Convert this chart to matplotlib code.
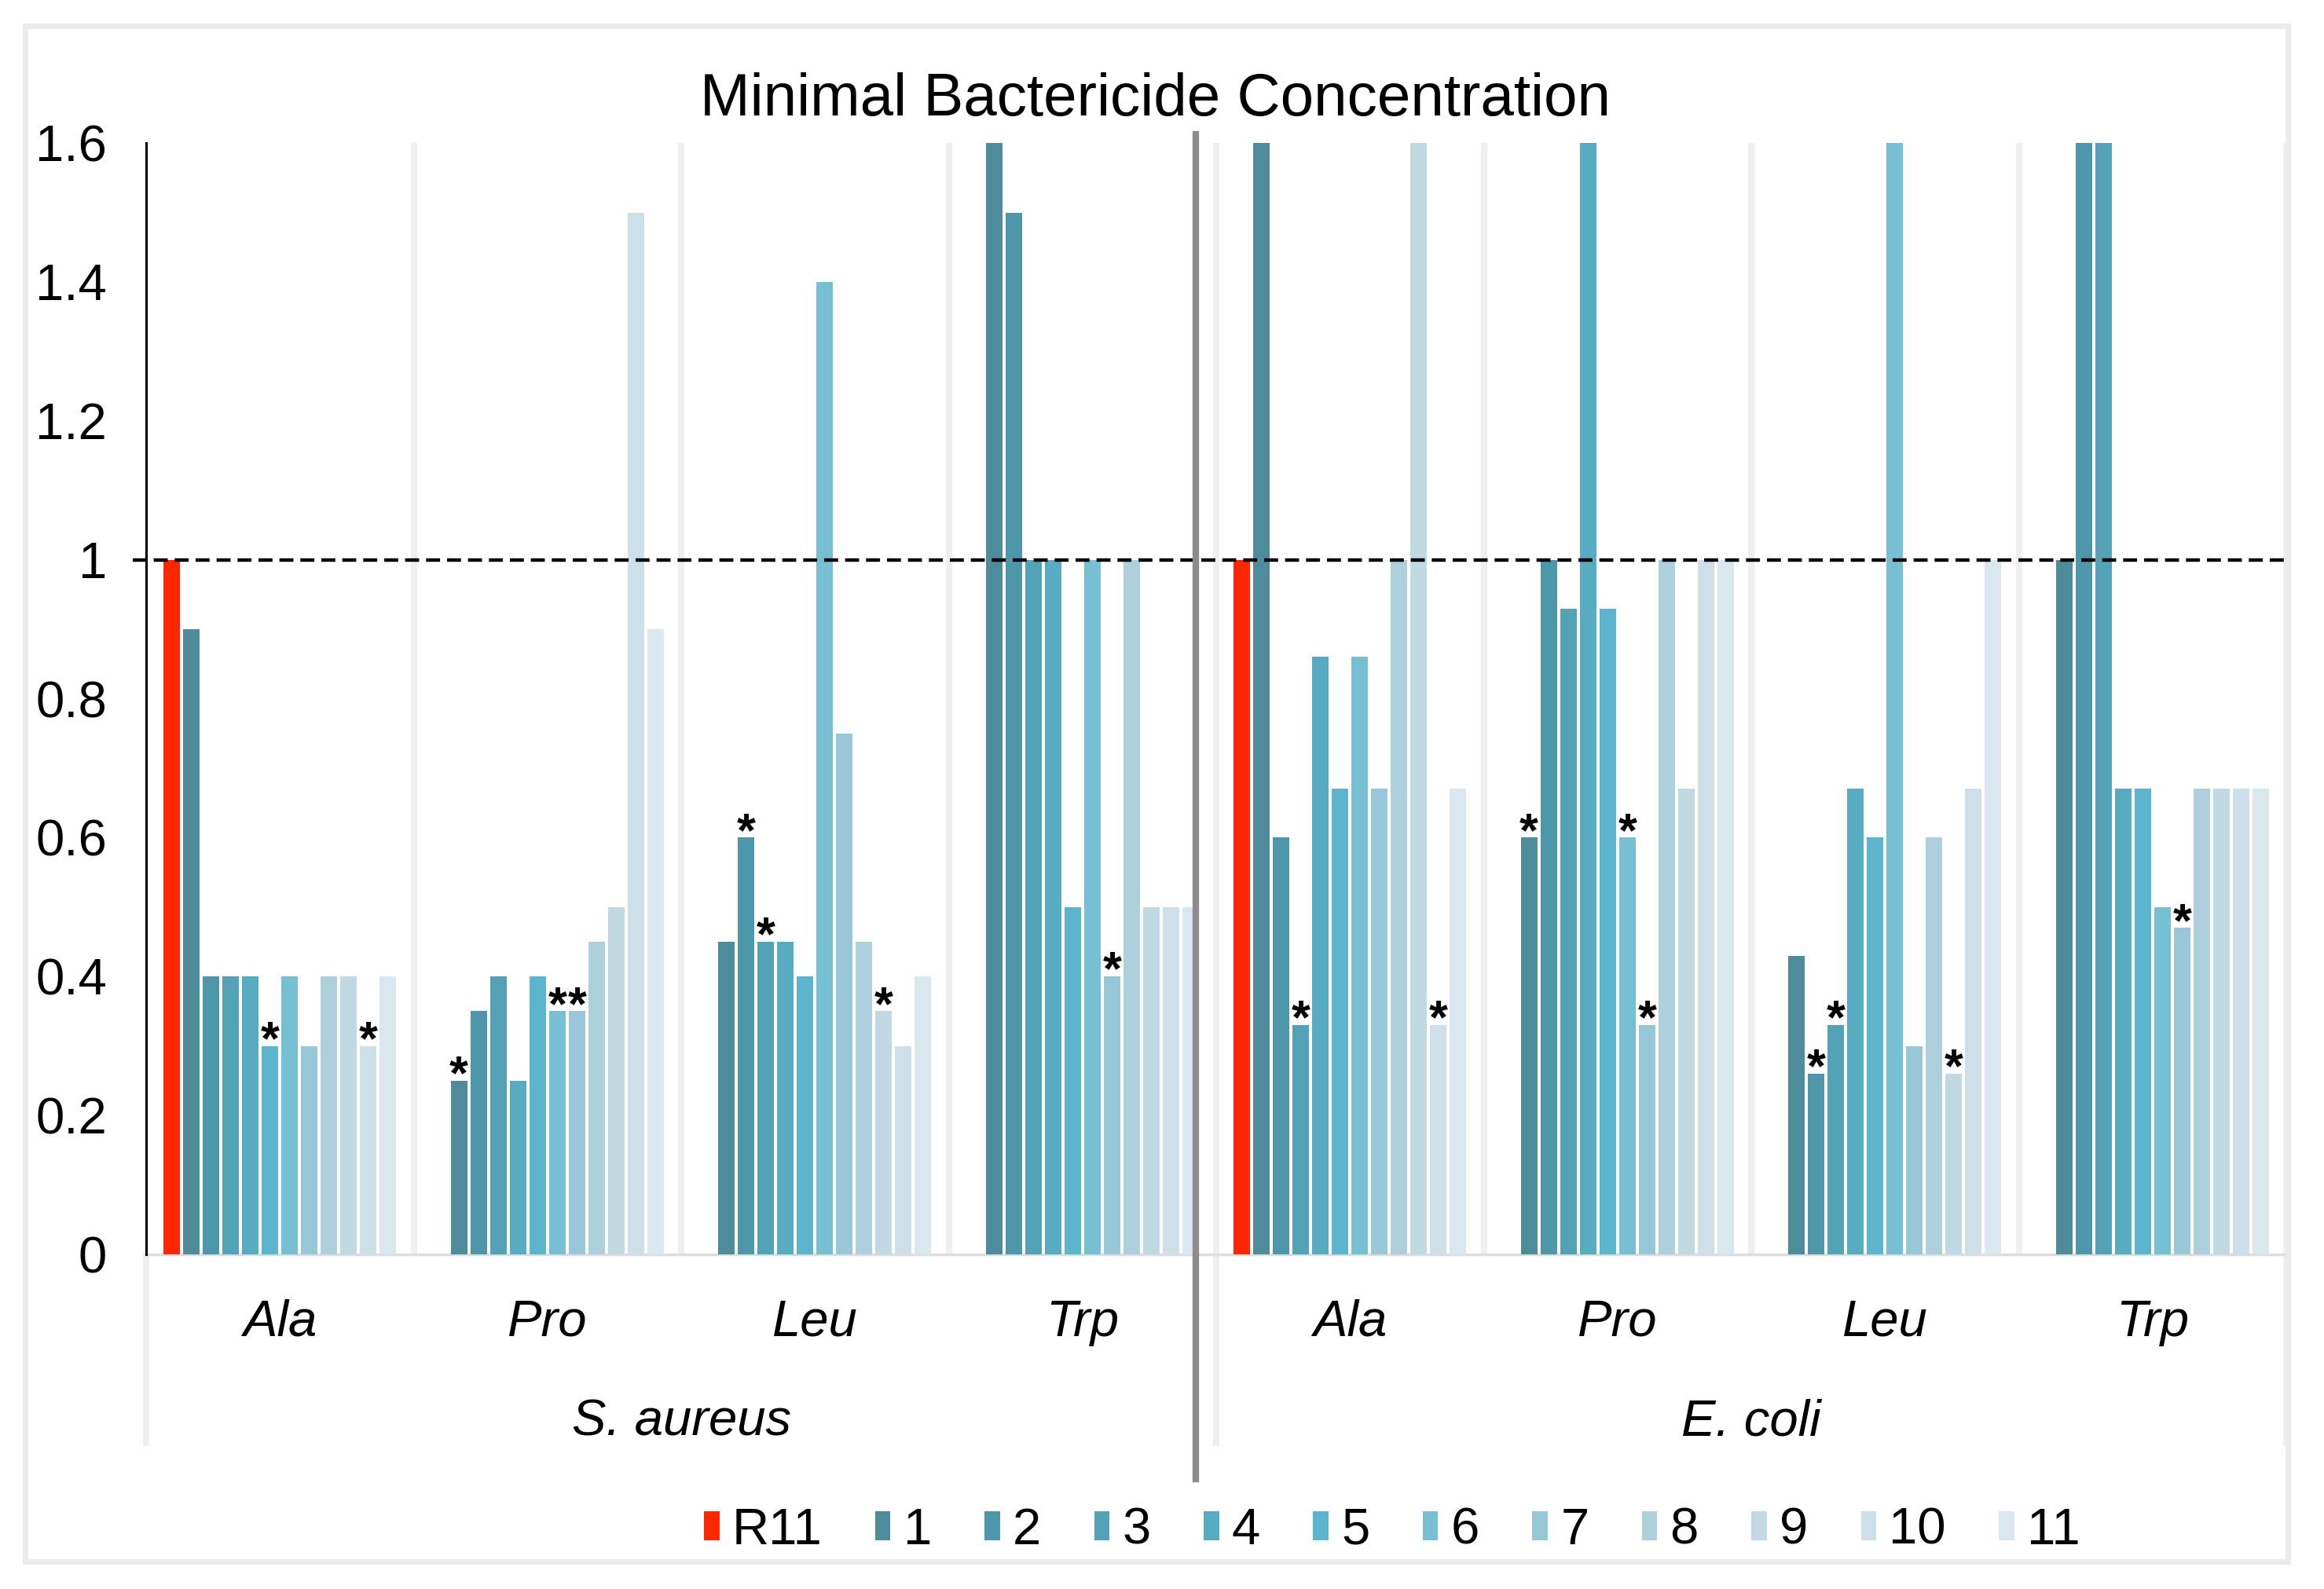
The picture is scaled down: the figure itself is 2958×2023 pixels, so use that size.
import numpy as np
import matplotlib
matplotlib.use("Agg")
import matplotlib.pyplot as plt
from matplotlib.patches import Rectangle
from matplotlib.lines import Line2D
import matplotlib.transforms as mtransforms

plt.rcParams["font.family"] = ["Liberation Sans", "DejaVu Sans"]

# =========================
# DATA
# =========================
compounds = ["R11", "1", "2", "3", "4", "5", "6", "7", "8", "9", "10", "11"]
amino_acids = ["Ala", "Pro", "Leu", "Trp"]
bacteria = ["S. aureus", "E. coli"]
nan = np.nan

# one list per group: R11 first, then compounds 1..11
sa_ala = [1.0, 0.9, 0.4, 0.4, 0.4, 0.3, 0.4, 0.3, 0.4, 0.4, 0.3, 0.4]
sa_pro = [nan, 0.25, 0.35, 0.4, 0.25, 0.4, 0.35, 0.35, 0.45, 0.5, 1.5, 0.9]
sa_leu = [nan, 0.45, 0.6, 0.45, 0.45, 0.4, 1.4, 0.75, 0.45, 0.35, 0.3, 0.4]
sa_trp = [nan, 1.6, 1.5, 1.0, 1.0, 0.5, 1.0, 0.4, 1.0, 0.5, 0.5, 0.5]
ec_ala = [1.0, 1.6, 0.6, 0.33, 0.86, 0.67, 0.86, 0.67, 1.0, 1.6, 0.33, 0.67]
ec_pro = [nan, 0.6, 1.0, 0.93, 1.6, 0.93, 0.6, 0.33, 1.0, 0.67, 1.0, 1.0]
ec_leu = [nan, 0.43, 0.26, 0.33, 0.67, 0.6, 1.6, 0.3, 0.6, 0.26, 0.67, 1.0]
ec_trp = [nan, 1.0, 1.6, 1.6, 0.67, 0.67, 0.5, 0.47, 0.67, 0.67, 0.67, 0.67]

# compounds marked with an asterisk, per group
sa_stars = [[5, 10], [1, 6, 7], [2, 3, 9], [7]]
ec_stars = [[3, 10], [1, 6, 7], [2, 3, 9], [7]]

y_ticks = [0, 0.2, 0.4, 0.6, 0.8, 1.0, 1.2, 1.4, 1.6]
y_tick_labels = ["0", "0.2", "0.4", "0.6", "0.8", "1", "1.2", "1.4", "1.6"]

colors = ["#FF2600", "#4E8B9B", "#4E97AA", "#53A2B5", "#57ACC2", "#5DB5CD",
          "#77BFD3", "#98C8D7", "#AECFDC", "#C0D9E3", "#CDE0E9", "#D9E7EE"]

groups = [sa_ala, sa_pro, sa_leu, sa_trp, ec_ala, ec_pro, ec_leu, ec_trp]
stars = sa_stars + ec_stars
values = np.array(groups, dtype=float)  # shape (8 groups, 12 compounds)

# =========================
# FIGURE
# =========================
fig = plt.figure(figsize=(29.58, 20.23), dpi=100)
ax = fig.add_axes([0.0629, 0.2106, 0.9209, 0.6994])

n_slots = len(compounds)
slot = 0.0735
bar_w = slot * 0.84
group_x = np.arange(len(groups))

for i, name in enumerate(compounds):
    h = values[:, i]
    ok = ~np.isnan(h)
    x = group_x + 0.5 + (i - (n_slots - 1) / 2) * slot
    ax.bar(x[ok], h[ok], width=bar_w, color=colors[i], label=name,
           linewidth=0, zorder=3)

# asterisks
for g, idx_list in enumerate(stars):
    for i in idx_list:
        x = g + 0.5 + (i - (n_slots - 1) / 2) * slot
        ax.annotate("*", (x, values[g, i]), xytext=(0, -7.5),
                    textcoords="offset points", ha="center", va="baseline",
                    fontsize=44, fontweight="bold", color="black", zorder=5)

ax.set_xlim(0, len(groups))
ax.set_ylim(0, 1.6)
ax.set_yticks(y_ticks)
ax.set_yticklabels(y_tick_labels)
ax.tick_params(axis="y", length=0, pad=36, labelsize=47)
ax.set_xticks([])

for s in ["top", "right"]:
    ax.spines[s].set_visible(False)
ax.spines["left"].set_color("black")
ax.spines["left"].set_linewidth(2.2)
ax.spines["left"].set_zorder(4)
ax.spines["bottom"].set_color("#DDDDDD")
ax.spines["bottom"].set_linewidth(2.5)

# group separators inside the plot
for gx in range(1, len(groups) + 1):
    ax.axvline(gx, color="#EFEFEF", lw=5.8, zorder=1)

# separators reaching down into the label area
trans = mtransforms.blended_transform_factory(ax.transData, ax.transAxes)
for gx in [0, 4, 8]:
    ax.add_line(Line2D([gx, gx], [-0.1696, 0], transform=trans,
                       color="#EFEFEF", lw=5.8, clip_on=False, zorder=1))

# dashed reference line at 1
ax.plot([-0.05, len(groups)], [1, 1], color="black", lw=3.2,
        linestyle=(0, (4.0, 2.0)), clip_on=False, zorder=4)

# dark divider between the two bacteria
ax.add_line(Line2D([3.924, 3.924], [-0.2021, 1.0078], transform=trans,
                   color="#8C8C8C", lw=6, clip_on=False, zorder=6))

# category labels
for g in range(len(groups)):
    ax.text(g + 0.5, -0.0615, amino_acids[g % 4], transform=trans,
            ha="center", va="center", fontsize=47, style="italic")
for b, name in enumerate(bacteria):
    ax.text(b * 4 + 2, -0.151, name, transform=trans,
            ha="center", va="center", fontsize=47, style="italic")

# title
fig.text(0.497, 0.937, "Minimal Bactericide Concentration",
         ha="center", va="center", fontsize=55)

# legend
fig.legend(loc="center", bbox_to_anchor=(0.599, 0.0366), ncol=12,
           frameon=False, fontsize=47, handlelength=0.3, handleheight=0.5,
           handletextpad=0.25, columnspacing=1.03, borderpad=0)

# light frame around the chart
fig.patches.append(Rectangle((0.0108, 0.0173), 0.9737, 0.9664,
                             transform=fig.transFigure, fill=False,
                             edgecolor="#EBEBEB", lw=5, zorder=0))

fig.savefig("out.png", dpi=100, facecolor="white")
